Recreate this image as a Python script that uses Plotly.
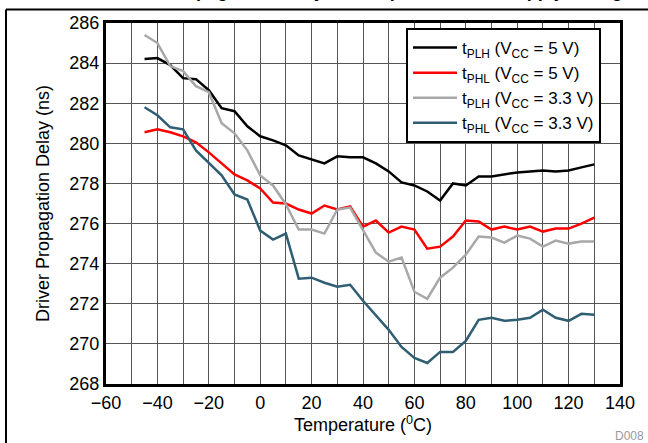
import plotly.graph_objects as go

temps = [-45, -40, -35, -30, -25, -20, -15, -10, -5, 0, 5, 10, 15, 20, 25, 30, 35, 40,
         45, 50, 55, 60, 65, 70, 75, 80, 85, 90, 95, 100, 105, 110, 115, 120, 125, 130]

tplh_5v = [284.2, 284.25, 283.9, 283.25, 283.2, 282.65, 281.75, 281.6, 280.85, 280.35, 280.15, 279.9,
           279.4, 279.2, 279.0, 279.35, 279.3, 279.3, 279.0, 278.6, 278.05, 277.9, 277.6, 277.15,
           278.0, 277.9, 278.35, 278.35, 278.45, 278.55, 278.6, 278.65, 278.6, 278.65, 278.8, 278.95]
tphl_5v = [280.55, 280.7, 280.55, 280.35, 280.05, 279.55, 279.0, 278.45, 278.15, 277.75, 277.05, 277.0,
           276.7, 276.5, 276.9, 276.7, 276.85, 275.85, 276.15, 275.55, 275.85, 275.7, 274.75, 274.85,
           275.35, 276.15, 276.1, 275.7, 275.85, 275.7, 275.85, 275.6, 275.75, 275.75, 276.0, 276.3]
tplh_33v = [285.4, 285.0, 283.85, 283.6, 282.85, 282.55, 281.0, 280.5, 279.65, 278.4, 277.9, 276.95,
            275.7, 275.7, 275.5, 276.7, 276.8, 275.7, 274.55, 274.1, 274.3, 272.6, 272.25, 273.3,
            273.8, 274.45, 275.35, 275.3, 275.05, 275.4, 275.25, 274.85, 275.15, 275.0, 275.1, 275.1]
tphl_33v = [281.8, 281.4, 280.8, 280.7, 279.65, 279.0, 278.4, 277.45, 277.2, 275.65, 275.2, 275.5,
            273.25, 273.3, 273.05, 272.85, 272.95, 272.15, 271.4, 270.7, 269.85, 269.3, 269.05, 269.6,
            269.6, 270.15, 271.2, 271.3, 271.15, 271.2, 271.3, 271.7, 271.3, 271.15, 271.5, 271.45]

series_names = ["t<sub>PLH</sub> (V<sub>CC</sub> = 5 V)",
                "t<sub>PHL</sub> (V<sub>CC</sub> = 5 V)",
                "t<sub>PLH</sub> (V<sub>CC</sub> = 3.3 V)",
                "t<sub>PHL</sub> (V<sub>CC</sub> = 3.3 V)"]
series_vals = [tplh_5v, tphl_5v, tplh_33v, tphl_33v]
colors = ["#000000", "#FF0000", "#A8A8A8", "#2F5E73"]

x_ticks = [-60, -40, -20, 0, 20, 40, 60, 80, 100, 120, 140]
y_ticks = [268, 270, 272, 274, 276, 278, 280, 282, 284, 286]

FONT = "Liberation Sans, Arial, sans-serif"

fig = go.Figure()
for name, vals, c in zip(series_names, series_vals, colors):
    fig.add_trace(go.Scatter(x=temps, y=vals, mode="lines", name=name,
                             line=dict(color=c, width=2.5)))

W, H = 648, 443
L, R, T, B = 106, 28, 23, 59
pw, ph = W - L - R, H - T - B

def px(xp):
    return (xp - L) / pw

def py(yp):
    return (H - B - yp) / ph

fig.update_layout(
    width=W, height=H,
    margin=dict(l=L, r=R, t=T, b=B),
    paper_bgcolor="white", plot_bgcolor="white",
    font=dict(family=FONT, size=18, color="black"),
    showlegend=True,
    legend=dict(x=px(406), y=py(28), xanchor="left", yanchor="top",
                bgcolor="white", bordercolor="black", borderwidth=2,
                font=dict(size=17, family=FONT), tracegroupgap=0,
                itemwidth=44),
    xaxis=dict(range=[-60, 140], tickvals=x_ticks, ticks="", showgrid=True,
               gridcolor="#555555", gridwidth=1,
               minor=dict(dtick=10, showgrid=True, gridcolor="#555555", gridwidth=1),
               showline=True, linecolor="black", linewidth=3, mirror=True,
               zeroline=False,
               title=dict(text="Temperature (<sup>0</sup>C)", standoff=2,
                          font=dict(size=18)),
               tickfont=dict(size=18)),
    yaxis=dict(range=[268, 286], tickvals=y_ticks, ticks="", showgrid=True,
               gridcolor="#555555", gridwidth=1,
               showline=True, linecolor="black", linewidth=3, mirror=True,
               zeroline=False,
               title=dict(text="Driver Propagation Delay (ns)", standoff=16,
                          font=dict(size=18)),
               tickfont=dict(size=18)),
)

# outer frame lines
fig.add_shape(type="line", xref="paper", yref="paper",
              x0=px(6), x1=px(6), y0=py(9.5), y1=py(H + 5),
              line=dict(color="black", width=2))
fig.add_shape(type="line", xref="paper", yref="paper",
              x0=px(6), x1=px(W + 5), y0=py(9.5), y1=py(9.5),
              line=dict(color="black", width=2))

# cut-off title (only its lowest part shows, as in the reference)
fig.add_annotation(text="<b>Driver Propagation Delay vs Temperature and Supply Voltage</b>",
                   xref="paper", yref="paper", x=px(370), y=py(3),
                   xanchor="center", yanchor="bottom", showarrow=False,
                   font=dict(size=18, family=FONT, color="black"))

fig.add_annotation(text="D008", xref="paper", yref="paper", x=px(646), y=py(436),
                   xanchor="right", yanchor="middle", showarrow=False,
                   font=dict(size=12, family=FONT, color="#999999"))

fig.write_html("out.html", config={"displayModeBar": False},
               post_script="document.body.style.margin='0';document.body.style.overflow='hidden';")
